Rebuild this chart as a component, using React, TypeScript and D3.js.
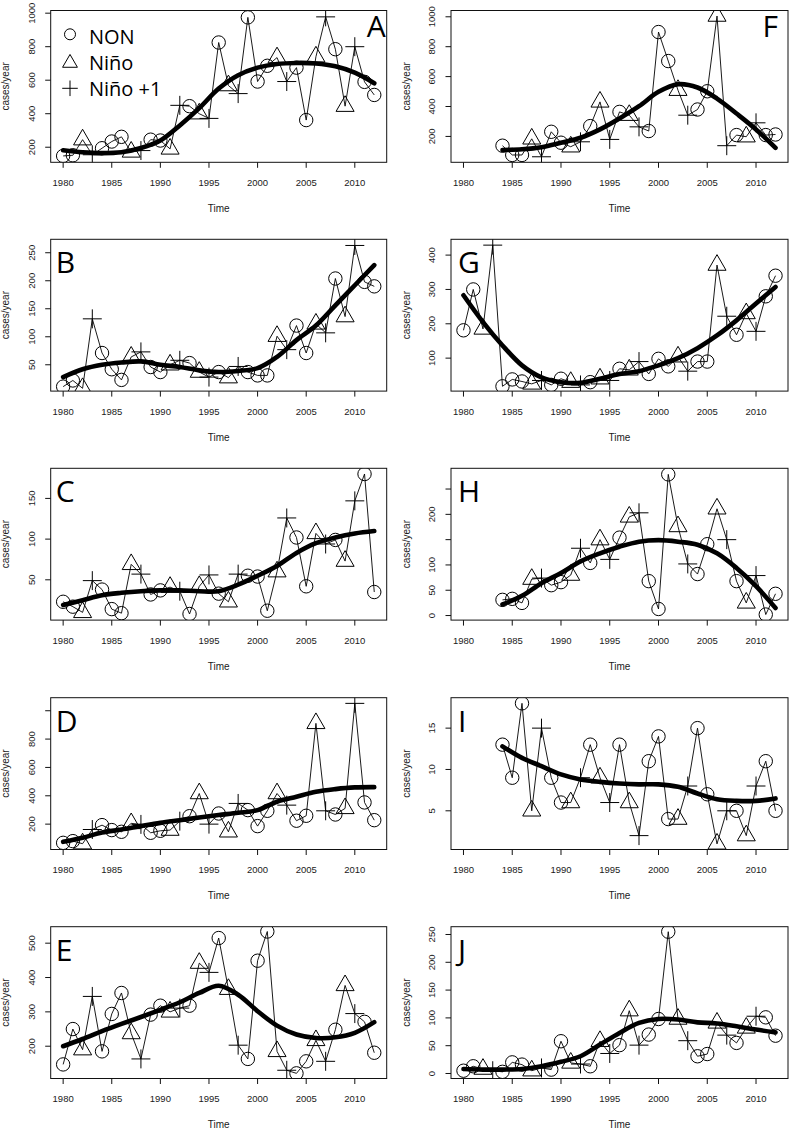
import React from 'react';
import * as d3 from 'd3';

// ---------- data ----------
const years = [1980, 1981, 1982, 1983, 1984, 1985, 1986, 1987, 1988, 1989, 1990, 1991, 1992, 1993, 1994, 1995, 1996, 1997, 1998, 1999, 2000, 2001, 2002, 2003, 2004, 2005, 2006, 2007, 2008, 2009, 2010, 2011, 2012];
// N = NON (circle), T = Niño (triangle), P = Niño +1 (plus)
const yearType = ['N', 'N', 'T', 'P', 'N', 'N', 'N', 'T', 'P', 'N', 'N', 'T', 'P', 'N', 'T', 'P', 'N', 'T', 'P', 'N', 'N', 'N', 'T', 'P', 'N', 'N', 'T', 'P', 'N', 'T', 'P', 'N', 'N'];
const smoothYears = [1980, 1982, 1984, 1986, 1988, 1990, 1992, 1994, 1996, 1998, 2000, 2002, 2004, 2006, 2008, 2010, 2012];
const xTicks = [1980, 1985, 1990, 1995, 2000, 2005, 2010];

const valuesA = [148, 152, 245, 155, 194, 234, 262, 172, 180, 245, 240, 190, 450, 445, 400, 372, 825, 568, 520, 975, 592, 686, 735, 592, 675, 362, 740, 978, 785, 445, 800, 590, 512];
const smoothA = [182, 170, 165, 170, 195, 240, 330, 433, 550, 630, 675, 697, 703, 700, 683, 645, 582];

const valuesF = [138, 76, 76, 184, 64, 231, 158, 131, 164, 269, 431, 180, 364, 342, 264, 236, 898, 704, 509, 342, 380, 502, 1005, 138, 209, 198, 291, 209, 213];
const smoothF = [109, 114, 128, 158, 191, 247, 320, 402, 498, 549, 527, 453, 353, 247, 124];

const valuesB = [11, 22, 8, 132, 71, 42, 23, 64, 73, 46, 37, 50, 58, 53, 37, 28, 37, 27, 47, 37, 31, 31, 101, 77, 120, 71, 123, 107, 204, 136, 263, 198, 190];
const smoothB = [28, 42, 50, 54, 56, 50, 46, 40, 37, 39, 44, 64, 94, 120, 156, 192, 228];

const valuesG = [181, 300, 185, 429, 18, 38, 32, 25, 35, 22, 40, 30, 22, 30, 40, 35, 69, 66, 90, 54, 98, 76, 104, 62, 90, 90, 371, 222, 168, 230, 178, 280, 340];
const smoothG = [283, 205, 137, 79, 44, 30, 28, 40, 54, 62, 79, 100, 129, 166, 210, 259, 307];

const valuesC = [23, 17, 10, 49, 38, 14, 9, 69, 57, 32, 37, 41, 36, 8, 42, 56, 33, 23, 57, 55, 54, 12, 60, 126, 102, 42, 107, 94, 99, 73, 147, 180, 35];
const smoothC = [19, 25, 31, 34, 36, 37, 37, 36, 36, 44, 55, 67, 83, 95, 102, 107, 110];

const valuesH = [31, 33, 25, 72, 74, 60, 66, 80, 133, 104, 150, 111, 154, 195, 203, 68, 13, 279, 176, 102, 82, 141, 211, 150, 68, 25, 79, 2, 43];
const smoothH = [22, 39, 64, 84, 107, 123, 136, 146, 149, 146, 140, 123, 94, 58, 15];

const valuesD = [68, 80, 62, 162, 193, 158, 146, 205, 198, 139, 153, 158, 221, 256, 416, 200, 275, 146, 346, 299, 186, 294, 416, 334, 224, 259, 911, 294, 268, 311, 1052, 353, 228];
const smoothD = [75, 104, 141, 162, 186, 209, 228, 247, 264, 280, 299, 358, 393, 428, 447, 459, 461];

const valuesI = [13, 9, 18, 5, 15, 9, 6, 6, 9, 13, 9, 6, 13, 6, 2, 11, 14, 4, 4, 8, 15, 7, 1, 5, 5, 2, 8, 11, 5];
const smoothI = [12.8, 11.4, 10.4, 9.4, 8.8, 8.5, 8.3, 8.2, 8.2, 7.9, 7.1, 6.4, 6.2, 6.2, 6.5];

const valuesE = [147, 250, 190, 345, 185, 294, 355, 237, 163, 292, 318, 300, 311, 318, 442, 415, 515, 366, 203, 163, 449, 534, 185, 130, 121, 156, 217, 156, 248, 377, 295, 271, 181];
const smoothE = [200, 221, 244, 265, 285, 306, 328, 355, 376, 350, 302, 260, 234, 224, 226, 239, 270];

const valuesJ = [5, 13, 8, 5, 3, 20, 16, 5, 10, 7, 58, 19, 17, 13, 58, 36, 51, 113, 51, 70, 98, 255, 98, 59, 31, 35, 91, 69, 55, 82, 103, 101, 68];
const smoothJ = [8, 7, 7, 8, 13, 21, 31, 52, 73, 91, 98, 97, 92, 90, 85, 79, 74];

// axis domains and ticks
const yDomainA = [110, 1016]; const yTicksA = [200, 400, 600, 800, 1000]; const yLabelsA = [200, 400, 600, 800, 1000];
const yDomainF = [27, 1042]; const yTicksF = [200, 400, 600, 800, 1000]; const yLabelsF = [200, 400, 600, 800, 1000];
const yDomainB = [3, 274]; const yTicksB = [50, 100, 150, 200, 250]; const yLabelsB = [50, 100, 150, 200, 250];
const yDomainG = [4, 446]; const yTicksG = [100, 200, 300, 400]; const yLabelsG = [100, 200, 300, 400];
const yDomainC = [0.5, 187]; const yTicksC = [50, 100, 150]; const yLabelsC = [50, 100, 150];
const yDomainH = [-9, 291]; const yTicksH = [0, 50, 100, 150, 200, 250]; const yLabelsH = [0, 50, 100, 200];
const yDomainD = [21, 1092]; const yTicksD = [200, 400, 600, 800, 1000]; const yLabelsD = [200, 400, 600, 800];
const yDomainI = [0.32, 18.68]; const yTicksI = [5, 10, 15]; const yLabelsI = [5, 10, 15];
const yDomainE = [106, 548]; const yTicksE = [200, 300, 400, 500]; const yLabelsE = [200, 300, 400, 500];
const yDomainJ = [-9, 264]; const yTicksJ = [0, 50, 100, 150, 200, 250]; const yLabelsJ = [0, 50, 100, 150, 200, 250];

const legendItems = ['NON', 'Niño', 'Niño +1'];
const legendTypes = ['N', 'T', 'P'];

// ---------- layout ----------
const W = 790, H = 1129;
const colX = [[50.7, 386.7], [451, 788]];
const rowTop = [10.5, 239.3, 468.3, 697.7, 926.7];
const boxH = 151.8;
const xDomain = [1978.72, 2013.28];
const AXIS_FONT = '"Liberation Sans", Arial, sans-serif';
const LETTER_FONT = '"Open Sans", sans-serif';
const TXT = '#1a1a1a';

const panels = [
  { id: 'A', col: 0, row: 0, start: 1980, values: valuesA, smooth: smoothA, yDomain: yDomainA, yTicks: yTicksA, yLabels: yLabelsA, letterRight: true, legend: true },
  { id: 'F', col: 1, row: 0, start: 1984, values: valuesF, smooth: smoothF, yDomain: yDomainF, yTicks: yTicksF, yLabels: yLabelsF, letterRight: true },
  { id: 'B', col: 0, row: 1, start: 1980, values: valuesB, smooth: smoothB, yDomain: yDomainB, yTicks: yTicksB, yLabels: yLabelsB },
  { id: 'G', col: 1, row: 1, start: 1980, values: valuesG, smooth: smoothG, yDomain: yDomainG, yTicks: yTicksG, yLabels: yLabelsG },
  { id: 'C', col: 0, row: 2, start: 1980, values: valuesC, smooth: smoothC, yDomain: yDomainC, yTicks: yTicksC, yLabels: yLabelsC },
  { id: 'H', col: 1, row: 2, start: 1984, values: valuesH, smooth: smoothH, yDomain: yDomainH, yTicks: yTicksH, yLabels: yLabelsH },
  { id: 'D', col: 0, row: 3, start: 1980, values: valuesD, smooth: smoothD, yDomain: yDomainD, yTicks: yTicksD, yLabels: yLabelsD },
  { id: 'I', col: 1, row: 3, start: 1984, values: valuesI, smooth: smoothI, yDomain: yDomainI, yTicks: yTicksI, yLabels: yLabelsI },
  { id: 'E', col: 0, row: 4, start: 1980, values: valuesE, smooth: smoothE, yDomain: yDomainE, yTicks: yTicksE, yLabels: yLabelsE },
  { id: 'J', col: 1, row: 4, start: 1980, values: valuesJ, smooth: smoothJ, yDomain: yDomainJ, yTicks: yTicksJ, yLabels: yLabelsJ },
];

function Sym({ type, x, y, R }: { type: string; x: number; y: number; R: number }) {
  const common = { fill: 'none', stroke: '#000', strokeWidth: 1 };
  if (type === 'N') return <circle cx={x} cy={y} r={R} {...common} />;
  if (type === 'T') {
    const r = 1.5551 * R, xc = 1.3468 * R, yc = 0.7776 * R;
    return <path d={`M${x},${y - r}L${x + xc},${y + yc}L${x - xc},${y + yc}Z`} {...common} />;
  }
  const h = 1.4142 * R;
  return <path d={`M${x - h},${y}H${x + h}M${x},${y - h}V${y + h}`} {...common} />;
}

function Panel({ p }: { p: any }) {
  const [x0, x1] = colX[p.col];
  const top = rowTop[p.row];
  const bottom = top + boxH;
  const x = d3.scaleLinear().domain(xDomain).range([x0, x1]);
  const y = d3.scaleLinear().domain(p.yDomain).range([bottom, top]);
  const startIdx = years.indexOf(p.start);
  const yrs = years.slice(startIdx);
  const types = yearType.slice(startIdx);
  const pts = p.values.map((v: number, i: number) => ({ yr: yrs[i], v, t: types[i] }));
  const sYears = smoothYears.filter((yr) => yr >= p.start);
  const line = d3.line<any>().x((d) => x(d.yr)).y((d) => y(d.v));
  const sline = d3.line<number>().x((d, i) => x(sYears[i])).y((d) => y(d)).curve(d3.curveCatmullRom.alpha(0.5));
  const clipId = `clip-${p.id}`;
  const R = 6.7;
  const midY = (top + bottom) / 2;
  return (
    <g>
      <defs>
        <clipPath id={clipId}>
          <rect x={x0} y={top} width={x1 - x0} height={bottom - top} />
        </clipPath>
      </defs>
      <g clipPath={`url(#${clipId})`}>
        <path d={line(pts) || ''} fill="none" stroke="#000" strokeWidth={0.9} />
        {pts.map((d: any, i: number) => (
          <Sym key={i} type={d.t} x={x(d.yr)} y={y(d.v)} R={R} />
        ))}
        <path d={sline(p.smooth) || ''} fill="none" stroke="#000" strokeWidth={4.6} strokeLinecap="round" strokeLinejoin="round" />
      </g>
      <rect x={x0} y={top} width={x1 - x0} height={bottom - top} fill="none" stroke="#111" strokeWidth={1} />
      {/* x axis */}
      {xTicks.map((t) => (
        <g key={t}>
          <line x1={x(t)} x2={x(t)} y1={bottom} y2={bottom + 5.5} stroke="#111" strokeWidth={1} />
          <text x={x(t)} y={bottom + 23.8} textAnchor="middle" fontFamily={AXIS_FONT} fontSize={9.5} fill={TXT}>{t}</text>
        </g>
      ))}
      <text x={(x0 + x1) / 2} y={bottom + 49.6} textAnchor="middle" fontFamily={AXIS_FONT} fontSize={10} fill={TXT}>Time</text>
      {/* y axis */}
      {p.yTicks.map((t: number) => (
        <line key={t} x1={x0 - 5.5} x2={x0} y1={y(t)} y2={y(t)} stroke="#111" strokeWidth={1} />
      ))}
      {p.yLabels.map((t: number) => (
        <text key={t} transform={`translate(${x0 - 16},${y(t)}) rotate(-90)`} textAnchor="middle" fontFamily={AXIS_FONT} fontSize={9.5} fill={TXT}>{t}</text>
      ))}
      <text transform={`translate(${x0 - 41.5},${midY}) rotate(-90)`} textAnchor="middle" fontFamily={AXIS_FONT} fontSize={10} fill={TXT}>cases/year</text>
      {/* panel letter */}
      {p.letterRight ? (
        <text x={p.id === 'A' ? x1 - 1 : x1 - 10} y={top + 26} textAnchor="end" fontFamily={LETTER_FONT} fontSize={30} fill="#000">{p.id}</text>
      ) : (
        <text x={p.col === 0 ? x0 + 5 : x0 + 7} y={top + 34} fontFamily={LETTER_FONT} fontSize={30} fill="#000">{p.id}</text>
      )}
      {p.legend && (
        <g>
          {legendItems.map((lab, i) => (
            <g key={lab}>
              <Sym type={legendTypes[i]} x={70} y={[34.3, 63, 88.3][i]} R={5.5} />
              <text x={89} y={[43.5, 69.5, 95.5][i]} fontFamily={LETTER_FONT} fontSize={20} fill="#000">{lab}</text>
            </g>
          ))}
        </g>
      )}
    </g>
  );
}

export default function App() {
  return (
    <svg width={W} height={H} viewBox={`0 0 ${W} ${H}`} style={{ position: 'absolute', left: 0, top: 0, background: '#fff' }}>
      <rect x={0} y={0} width={W} height={H} fill="#fff" />
      {panels.map((p) => (
        <Panel key={p.id} p={p} />
      ))}
    </svg>
  );
}
